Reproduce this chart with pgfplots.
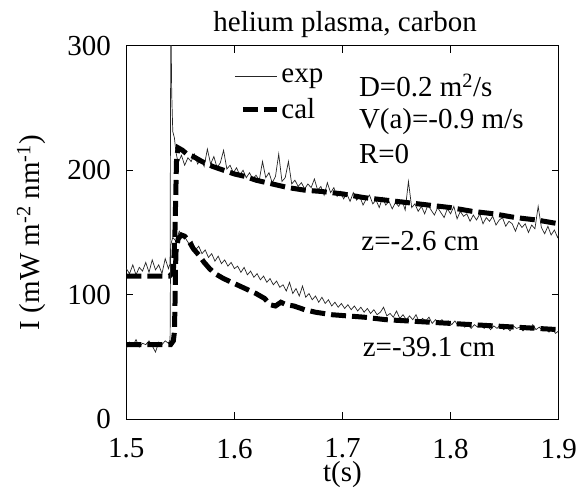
\documentclass[border=0pt]{standalone}
\usepackage{fontspec}
\setmainfont{Liberation Serif}
\usepackage{pgfplots}
\usepackage{pgfplotstable}
\pgfplotsset{compat=1.18}
\newcommand\bigfont{\fontsize{29}{30}\selectfont}
\pgfplotsset{
  explegend/.style={legend image code/.code={\draw[##1] (0pt,0pt) -- (42pt,0pt);}},
  callegend/.style={legend image code/.code={\draw[##1] (8pt,0pt) -- (42pt,0pt);}},
}

% z=-2.6 cm, experiment
\pgfplotstableread{
x y
1.500 121
1.503 117
1.506 124
1.509 116
1.512 122
1.515 119
1.518 126
1.521 118
1.524 128
1.527 120
1.530 124
1.533 117
1.536 129
1.539 121
1.5405 125
1.5412 330
1.5420 262
1.5430 231
1.5445 226
1.546 214
1.548 206
1.551 212
1.554 204
1.557 210
1.560 207
1.563 213
1.566 205
1.569 209
1.572 203
1.575 217
1.578 205
1.581 211
1.584 202
1.587 206
1.590 216
1.593 201
1.596 204
1.599 198
1.602 202
1.605 196
1.608 200
1.611 194
1.614 198
1.617 193
1.620 196
1.623 192
1.626 207
1.629 194
1.632 198
1.635 190
1.638 195
1.641 213
1.644 191
1.647 194
1.650 207
1.653 189
1.656 192
1.659 187
1.662 190
1.665 185
1.668 189
1.671 186
1.674 193
1.677 184
1.680 187
1.683 180
1.686 190
1.689 182
1.692 186
1.695 179
1.698 183
1.701 177
1.704 181
1.707 175
1.710 182
1.713 176
1.716 179
1.719 172
1.722 177
1.725 180
1.728 173
1.731 176
1.734 170
1.737 178
1.740 172
1.743 175
1.746 169
1.749 174
1.752 171
1.755 176
1.758 168
1.761 191
1.764 170
1.767 173
1.770 167
1.773 171
1.776 165
1.779 172
1.782 168
1.785 164
1.788 170
1.791 166
1.794 162
1.797 169
1.800 165
1.803 171
1.806 161
1.809 167
1.812 163
1.815 165
1.818 159
1.821 164
1.824 160
1.827 165
1.830 157
1.833 162
1.836 159
1.839 163
1.842 156
1.845 160
1.848 162
1.851 155
1.854 159
1.857 157
1.860 151
1.863 158
1.866 154
1.869 157
1.872 150
1.875 156
1.878 153
1.881 171
1.884 154
1.887 149
1.890 155
1.893 148
1.896 152
1.899 146
1.900 148
}\expA

% z=-39.1 cm, experiment
\pgfplotstableread{
x y
1.500 57
1.503 62
1.506 59
1.509 64
1.512 58
1.515 61
1.518 60
1.521 63
1.524 59
1.527 54
1.530 62
1.533 60
1.536 63
1.539 61
1.5405 64
1.5410 140
1.543 146
1.546 143
1.549 151
1.552 147
1.555 145
1.558 141
1.561 143
1.564 136
1.567 139
1.570 133
1.573 136
1.576 130
1.579 133
1.582 127
1.585 131
1.588 125
1.591 128
1.594 123
1.597 126
1.600 121
1.603 123
1.606 118
1.609 122
1.612 116
1.615 119
1.618 114
1.621 117
1.624 112
1.627 115
1.630 110
1.633 113
1.636 108
1.639 111
1.642 106
1.645 108
1.648 103
1.651 110
1.654 101
1.657 105
1.660 99
1.663 107
1.666 98
1.669 101
1.672 96
1.675 99
1.678 94
1.681 98
1.684 93
1.687 96
1.690 91
1.693 94
1.696 90
1.699 93
1.702 89
1.705 92
1.708 88
1.711 91
1.714 87
1.717 90
1.720 86
1.723 89
1.726 85
1.729 88
1.732 84
1.735 86
1.738 90
1.741 83
1.744 85
1.747 82
1.750 87
1.753 81
1.756 84
1.759 80
1.762 83
1.765 80
1.768 84
1.771 78
1.774 81
1.777 79
1.780 82
1.783 77
1.786 80
1.789 78
1.792 80
1.795 76
1.798 79
1.801 76
1.804 79
1.807 75
1.810 77
1.813 74
1.816 76
1.819 73
1.822 76
1.825 74
1.828 77
1.831 73
1.834 75
1.837 72
1.840 75
1.843 73
1.846 76
1.849 72
1.852 74
1.855 71
1.858 75
1.861 73
1.864 74
1.867 71
1.870 74
1.873 72
1.876 76
1.879 72
1.882 74
1.885 71
1.888 73
1.891 70
1.894 73
1.897 69
1.900 71
}\expB

% calculations
\pgfplotstableread{
x y
1.500 115
1.540 115
1.5435 118
1.5450 150
1.5465 210
1.548 218
1.552 216
1.556 213
1.562 211
1.570 207
1.580 203
1.590 200
1.600 197
1.610 195
1.620 192
1.630 190
1.640 188
1.650 186
1.665 184
1.680 183
1.700 181
1.720 178
1.740 176
1.760 174
1.780 172
1.800 170
1.820 167
1.840 165
1.860 162
1.880 160
1.900 157
}\calA

\pgfplotstableread{
x y
1.500 60
1.541 60
1.5435 63
1.5445 70
1.5450 90
1.5455 120
1.546 135
1.548 145
1.551 148
1.554 147
1.558 143
1.562 137
1.567 132
1.572 126
1.577 121
1.582 117
1.590 113
1.600 109
1.610 105
1.620 101
1.628 97
1.633 92
1.638 91
1.643 94
1.648 92
1.655 91
1.665 88
1.675 86
1.690 84
1.705 83
1.720 82
1.740 80
1.760 79
1.780 78
1.800 77
1.820 76
1.840 75
1.860 74
1.880 73
1.900 72
}\calB

\begin{document}
\begin{tikzpicture}
\begin{axis}[
    scale only axis,
    width=432.4pt, height=373.6pt,
    xmin=1.5, xmax=1.9, ymin=0, ymax=300,
    xtick={1.5,1.6,1.7,1.8,1.9},
    ytick={0,100,200,300},
    xticklabel style={/pgf/number format/fixed, /pgf/number format/fixed zerofill,
        /pgf/number format/precision=1, yshift=-16pt},
    yticklabel style={xshift=-12pt},
    /pgf/number format/assume math mode=true,
    tick align=inside,
    major tick length=7pt,
    tick style={line width=1.2pt, black},
    axis line style={line width=1.5pt},
    ticklabel style={font=\bigfont},
    title={helium plasma, carbon},
    every axis title/.style={at={(axis description cs:0.506,1.058)}, anchor=center, font=\bigfont},
    xlabel={t(s)},
    ylabel={I (mW m\textsuperscript{-2} nm\textsuperscript{-1})},
    every axis x label/.style={at={(axis description cs:0.5,-0.149)}, anchor=center, font=\bigfont},
    every axis y label/.style={at={(axis description cs:-0.22,0.5)}, rotate=90, anchor=center, font=\bigfont},
    legend style={at={(axis cs:1.600,283)}, anchor=north west, draw=none, fill=none,
        font=\bigfont, row sep=10pt, inner sep=0pt},
    legend cell align=left,
]
\addplot[black!85, line width=0.7pt, explegend] table {\expA};
\addlegendentry{exp}
\addplot[black, line width=5pt, dash pattern=on 15pt off 6pt, callegend] table {\calA};
\addlegendentry{cal}
\addplot[black!85, line width=0.7pt, forget plot] table {\expB};
\addplot[black, line width=5pt, dash pattern=on 15pt off 6pt, forget plot] table {\calB};

\node[font=\bigfont, anchor=west] at (axis cs:1.712,268) {D=0.2 m\textsuperscript{2}/s};
\node[font=\bigfont, anchor=west] at (axis cs:1.712,239.5) {V(a)=-0.9 m/s};
\node[font=\bigfont, anchor=west] at (axis cs:1.712,213) {R=0};
\node[font=\bigfont] at (axis cs:1.772,143) {z=-2.6 cm};
\node[font=\bigfont] at (axis cs:1.780,58) {z=-39.1 cm};
\end{axis}
\pgfresetboundingbox
\useasboundingbox (-126.3pt,-69pt) rectangle (450.7pt,419.3pt);
\end{tikzpicture}
\end{document}
